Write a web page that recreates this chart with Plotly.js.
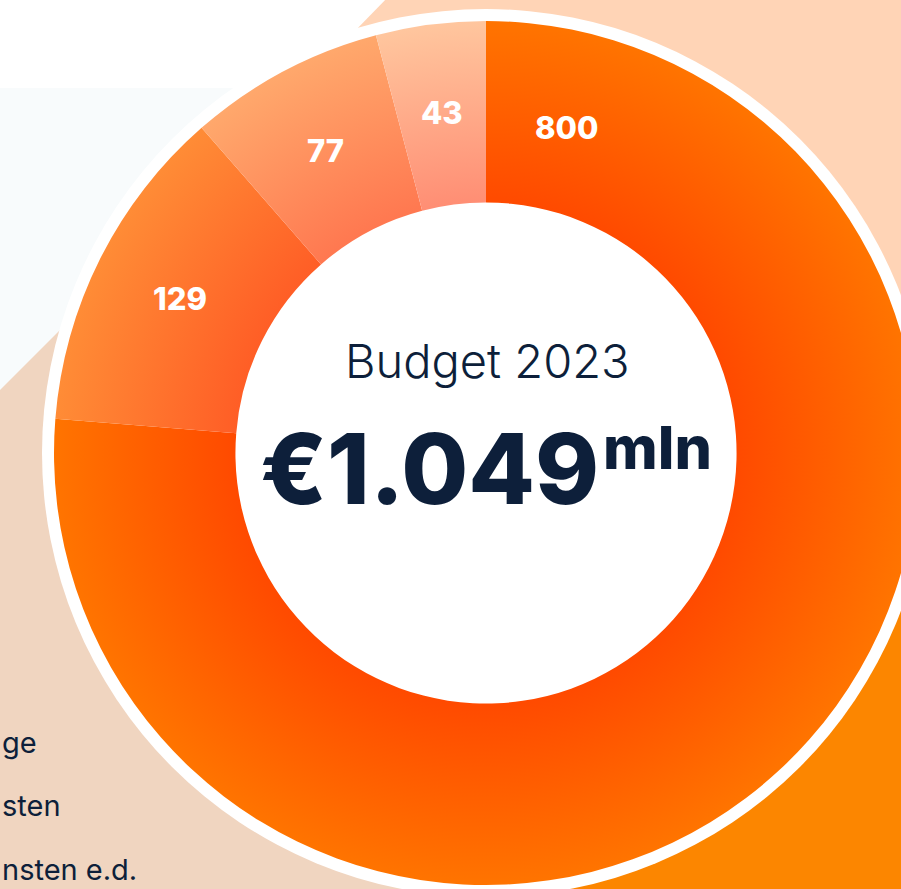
<!DOCTYPE html>
<html>
<head>
<meta charset="utf-8">
<script src="https://cdn.plot.ly/plotly-3.0.1.min.js"></script>
<style>
html,body{margin:0;padding:0;overflow:hidden;background:#fff;width:901px;height:889px}
#chart{width:920px;height:889px}
</style>
</head>
<body>
<div id="chart"></div>
<script>
// ---- data ----
const categories = ['Post 1', 'Post 2', 'Post 3', 'Post 4'];
const values = [800, 129, 77, 43];
const innerColors = ['#FF4A00', '#FF5E26', '#FF7850', '#FF8E74'];
const outerColors = ['#FF7400', '#FF8C36', '#FFA86C', '#FFC69E'];
const centerTitle = 'Budget 2023';
const unitLabel = 'mln';
const legendFragments = ['ge', 'sten', 'nsten e.d.'];

// ---- geometry helpers (pixel -> paper) ----
const L = 54, T = 21, S = 864;
const X = px => (px - L) / S;
const Y = py => 1 - (py - T) / S;
const HOLE = 0.58;
const navy = '#0D1F3A';
const FONT = 'Inter, "Open Sans", sans-serif';

const total = values.reduce((a, b) => a + b, 0);
const totalText = '€' + (total >= 1000 ? Math.floor(total / 1000) + '.' + String(total % 1000).padStart(3, '0') : String(total));

function poly(pts) {
  return 'M' + pts.map(p => X(p[0]) + ',' + Y(p[1])).join(' L') + ' Z';
}

const shapes = [
  {type: 'rect', xref: 'paper', yref: 'paper', x0: X(-5), x1: X(240), y0: Y(88), y1: Y(420), fillcolor: '#F8FBFC', line: {width: 0}, layer: 'below'},
  {type: 'path', xref: 'paper', yref: 'paper', path: poly([[390, -5], [930, -5], [930, 453], [486, 453], [195, 195]]), fillcolor: '#FFD4B6', line: {width: 0}, layer: 'below'},
  {type: 'path', xref: 'paper', yref: 'paper', path: poly([[-5, 395], [195, 195], [486, 453], [486, 895], [-5, 895]]), fillcolor: '#F0D5C0', line: {width: 0}, layer: 'below'},
  {type: 'path', xref: 'paper', yref: 'paper', path: poly([[486, 453], [930, 453], [930, 895], [486, 895]]), fillcolor: '#FC8600', line: {width: 0}, layer: 'below'},
  {type: 'circle', xref: 'paper', yref: 'paper', x0: X(486 - 444), x1: X(486 + 444), y0: Y(453 + 444), y1: Y(453 - 444), fillcolor: '#FFFFFF', line: {width: 0}, layer: 'below'}
];

const annotations = [
  {xref: 'paper', yref: 'paper', x: X(488), y: Y(360), text: centerTitle, showarrow: false, xanchor: 'center', yanchor: 'middle',
   font: {family: FONT, size: 47, color: navy, weight: 300}},
  {xref: 'paper', yref: 'paper', x: X(601), y: Y(468), text: totalText, showarrow: false, xanchor: 'right', yanchor: 'middle',
   font: {family: FONT, size: 97, color: navy, weight: 800}},
  {xref: 'paper', yref: 'paper', x: X(601), y: Y(447), text: unitLabel, showarrow: false, xanchor: 'left', yanchor: 'middle',
   font: {family: FONT, size: 59, color: navy, weight: 800}},
  {xref: 'paper', yref: 'paper', x: X(566), y: Y(127), text: String(values[0]), showarrow: false, xanchor: 'center', yanchor: 'middle',
   font: {family: FONT, size: 31, color: '#FFFFFF', weight: 800}}
];

// labels of the smaller slices, placed at each slice's mid angle (from the data)
const CX = 486, CY = 453, RL = 343;
let cum = 0;
values.forEach((v, i) => {
  const mid = (cum + v / 2) / total * 2 * Math.PI;
  cum += v;
  if (i === 0) return;
  annotations.push({xref: 'paper', yref: 'paper', x: X(CX + RL * Math.sin(mid)), y: Y(CY - RL * Math.cos(mid)), text: String(v),
    showarrow: false, xanchor: 'center', yanchor: 'middle', font: {family: FONT, size: 31, color: '#FFFFFF', weight: 800}});
});

const legendY = [742, 805, 869];
legendFragments.forEach((t, i) => {
  annotations.push({xref: 'paper', yref: 'paper', x: X(0), y: Y(legendY[i]), text: t, showarrow: false, xanchor: 'left', yanchor: 'middle',
    font: {family: FONT, size: 29, color: navy, weight: 400}});
});

const data = [{
  type: 'pie',
  labels: categories,
  values: values,
  hole: HOLE,
  sort: false,
  direction: 'clockwise',
  rotation: 0,
  marker: {colors: outerColors, line: {width: 0}},
  textinfo: 'none',
  hoverinfo: 'none',
  showlegend: false
}];

const layout = {
  width: 920, height: 889,
  margin: {l: L, r: 920 - L - S, t: T, b: 889 - T - S, pad: 0},
  paper_bgcolor: '#FFFFFF',
  plot_bgcolor: '#FFFFFF',
  showlegend: false,
  shapes: shapes,
  annotations: annotations
};

const gd = document.getElementById('chart');
Plotly.newPlot(gd, data, layout, {staticPlot: true, displayModeBar: false}).then(() => {
  const cd0 = gd.calcdata[0][0];
  const NS = 'http://www.w3.org/2000/svg';
  const svg = gd.querySelector('svg.main-svg');
  let defs = svg.querySelector('defs');
  if (!defs) { defs = document.createElementNS(NS, 'defs'); svg.insertBefore(defs, svg.firstChild); }
  gd.querySelectorAll('.pielayer g.slice path.surface').forEach(p => {
    const i = p.__data__ ? p.__data__.i : 0;
    const g = document.createElementNS(NS, 'radialGradient');
    g.setAttribute('id', 'sliceGrad' + i);
    g.setAttribute('gradientUnits', 'userSpaceOnUse');
    g.setAttribute('cx', cd0.cx); g.setAttribute('cy', cd0.cy); g.setAttribute('r', cd0.r);
    [[HOLE, innerColors[i]], [1, outerColors[i]]].forEach(s => {
      const st = document.createElementNS(NS, 'stop');
      st.setAttribute('offset', s[0]); st.setAttribute('stop-color', s[1]);
      g.appendChild(st);
    });
    defs.appendChild(g);
    p.style.fill = 'url(#sliceGrad' + i + ')';
  });
});
</script>
</body>
</html>
